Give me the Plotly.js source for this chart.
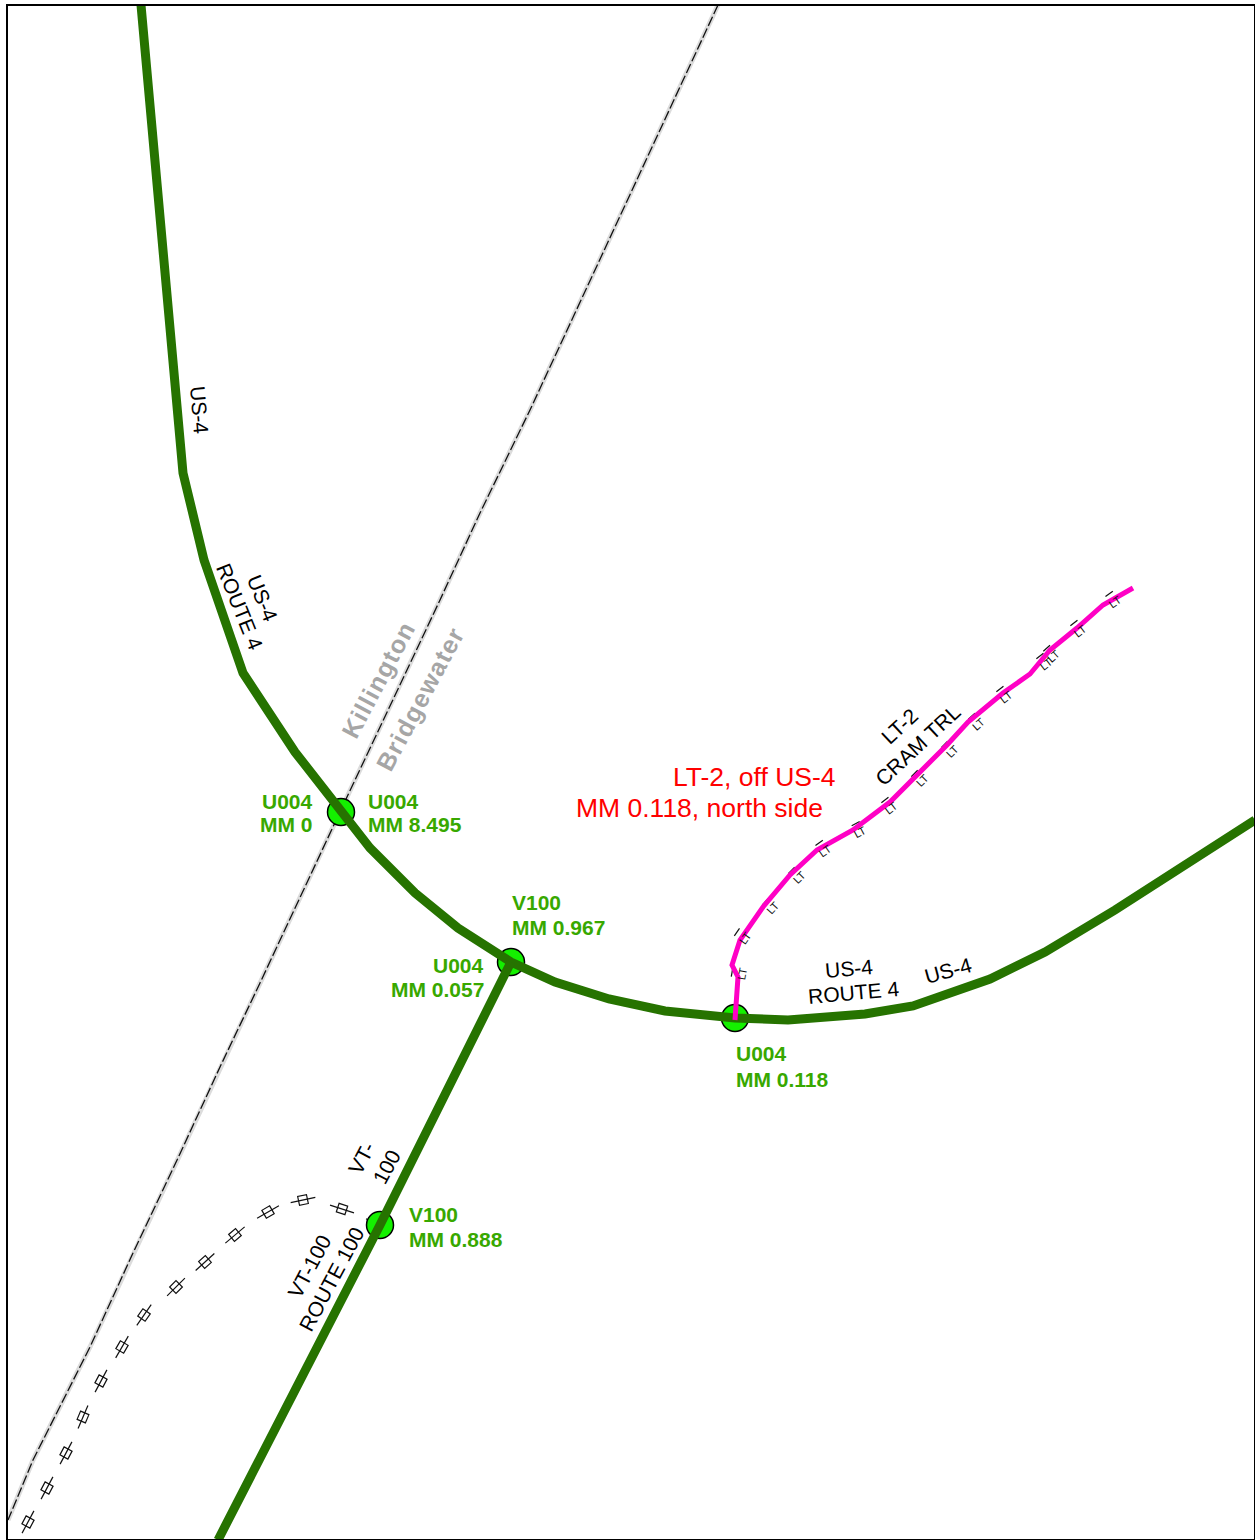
<!DOCTYPE html>
<html><head><meta charset="utf-8">
<script src="https://cdn.plot.ly/plotly-3.0.1.min.js"></script>
<style>html,body{margin:0;padding:0;background:#fff}#c{width:1255px;height:1540px}
.annotation.town text{letter-spacing:1.3px}</style>
</head><body><div id="c"></div>
<script>
// Route geometry (map coordinates = picture pixels)
const us4X = [141,158,183,204,243,295,341,370,415,458,511,555,609,665,735,788,865,913,990,1045,1115,1255];
const us4Y = [5,190,473,560,673,752,812,848,893,928,962,982,999,1011,1018,1020,1014,1006,979,952,910,820];
const vt100X = [511,380,218];
const vt100Y = [962,1225,1540];
const townX = [718,637,580,530,480,440,347,333,260,220,178,133,90,33,8];
const townY = [5,180,303,410,513,600,797,827,983,1067,1158,1253,1347,1460,1520];
const lt2X = [735,738,732,740,763,790,817,853,890,920,947,968,1003,1030,1050,1077,1103,1133];
const lt2Y = [1020,977,965,940,907,875,850,830,802,772,745,722,693,674,650,628,605,588];
const nodeX = [341,511,735,380];
const nodeY = [812,962,1018,1225];
const trailX = [28,47,66,83,101,122,144,176,205,235,268,303,342,377];
const trailY = [1522,1488,1453,1417,1381,1347,1315,1287,1262,1235,1212,1200,1209,1225];
const trailAngle = [-62,-62,-62,-67,-62,-60,-55,-45,-42,-40,-30,-12,18,30];
const ltX = [737,741,769,795,822,858,888,918,948,975,1003,1043,1050,1077,1112];
const ltY = [973,935,905,874,847,828,804,777,748,720,693,660,652,627,598];
const ltAngle = [-80,-55,-48,-45,-35,-28,-38,-45,-45,-42,-38,-38,-42,-38,-35];

const labelText = ["U004","MM 0","U004","MM 8.495","V100","MM 0.967","U004","MM 0.057","U004","MM 0.118","V100","MM 0.888"];
const labelX = [315,315,366,366,510,510,486,486,734,734,407,407];
const labelY = [801,824,801,824,902.5,927,965,989,1053.5,1079,1214,1239];
const labelSide = ["right","right","left","left","left","left","right","right","left","left","left","left"];

const roadText = ["US-4","US-4","ROUTE 4","VT-","100","VT-100","ROUTE 100","US-4","ROUTE 4","US-4","LT-2","CRAM TRL"];
const roadX = [200,263,240,361,386,309,331,849,853,948,899,917];
const roadY = [410,598,606,1158,1167,1266,1279,968,992,970,726,745];
const roadAngle = [85,68,68,-62,-62,-62,-62,-5,-5,-15,-43,-43];

const townText = ["Killington","Bridgewater"];
const townLabelX = [378,420];
const townLabelY = [680,699];
const townAngle = [-62,-62];

const noteText = ["LT-2, off US-4","MM 0.118, north side"];
const noteX = [837.5,824.5];
const noteY = [777,808];

const line = (x,y,color,width,dash) => ({x,y,mode:'lines',type:'scatter',hoverinfo:'skip',
  line:{color,width,dash:dash||'solid',shape:'linear'}});
// small ticks on the upper side of the LT-2 line, derived from the read point and its direction
const tickSide = (off,len) => {
  const xs=[],ys=[];
  ltX.forEach((x,i)=>{
    const a=ltAngle[i]*Math.PI/180, dx=Math.cos(a), dy=Math.sin(a), nx=-dy*off, ny=dx*off;
    xs.push(x+nx-dx*len,x+nx+dx*len,null); ys.push(ltY[i]+ny-dy*len,ltY[i]+ny+dy*len,null);
  });
  return [xs,ys];
};
const [upX,upY] = tickSide(-5,4.5);
const traces = [
  line(townX,townY,'#dcdcdc',5),
  line(townX,townY,'#111111',1.3,'10px,3px'),
  {x:trailX,y:trailY,mode:'markers',type:'scatter',hoverinfo:'skip',
   marker:{symbol:'square-open',size:9,angle:trailAngle,color:'#111',line:{width:1.2}}},
  {x:trailX,y:trailY,mode:'markers',type:'scatter',hoverinfo:'skip',
   marker:{symbol:'line-ew-open',size:18,angle:trailAngle,color:'#111',line:{width:1.2}}},
  {x:nodeX,y:nodeY,mode:'markers',type:'scatter',hoverinfo:'skip',
   marker:{symbol:'circle',size:27,color:'#14f000',line:{color:'#000',width:1.5}}},
  line(us4X,us4Y,'#267300',9),
  line(vt100X,vt100Y,'#267300',9),
  line(upX,upY,'#111111',1.2),
  line(lt2X,lt2Y,'#ff00c5',5)
];
const ann = [];
ltX.forEach((x,i)=>{
  const a=ltAngle[i]*Math.PI/180;
  ann.push({x,y:ltY[i],text:'LT',showarrow:false,textangle:ltAngle[i],xshift:-Math.sin(a)*5,yshift:-Math.cos(a)*5,
    font:{family:'Liberation Sans',size:11,color:'#111'}});
});
labelText.forEach((t,i)=>ann.push({x:labelX[i],y:labelY[i],text:t,showarrow:false,xanchor:labelSide[i],yanchor:'middle',
  font:{family:'Liberation Sans',size:21,color:'#38a800',weight:700}}));
roadText.forEach((t,i)=>ann.push({x:roadX[i],y:roadY[i],text:t,showarrow:false,textangle:roadAngle[i],
  font:{family:'Liberation Sans',size:21,color:'#000'}}));
const townStart = ann.length;
townText.forEach((t,i)=>ann.push({x:townLabelX[i],y:townLabelY[i],text:t,showarrow:false,textangle:townAngle[i],
  font:{family:'Liberation Sans',size:25,color:'#a6a6a6',weight:700}}));
noteText.forEach((t,i)=>ann.push({x:noteX[i],y:noteY[i],text:t,showarrow:false,xanchor:'right',yanchor:'middle',
  font:{family:'Liberation Sans',size:26.5,color:'#ff0000'}}));
const ax = {showgrid:false,zeroline:false,showticklabels:false,ticks:'',showline:true,mirror:true,linecolor:'#000',linewidth:2,fixedrange:true};
const mark = ()=>document.querySelectorAll('#c .annotation').forEach(g=>{
  const n=+g.getAttribute('data-index'); if(n>=townStart&&n<townStart+townText.length) g.classList.add('town');});
Plotly.newPlot('c',traces,{
  width:1255,height:1540,showlegend:false,paper_bgcolor:'#fff',plot_bgcolor:'#fff',
  margin:{l:8,r:1,t:6,b:1,pad:0},
  xaxis:Object.assign({range:[8,1254]},ax),
  yaxis:Object.assign({range:[1539,6]},ax),
  annotations:ann
},{displayModeBar:false,staticPlot:true}).then(mark);
</script></body></html>
